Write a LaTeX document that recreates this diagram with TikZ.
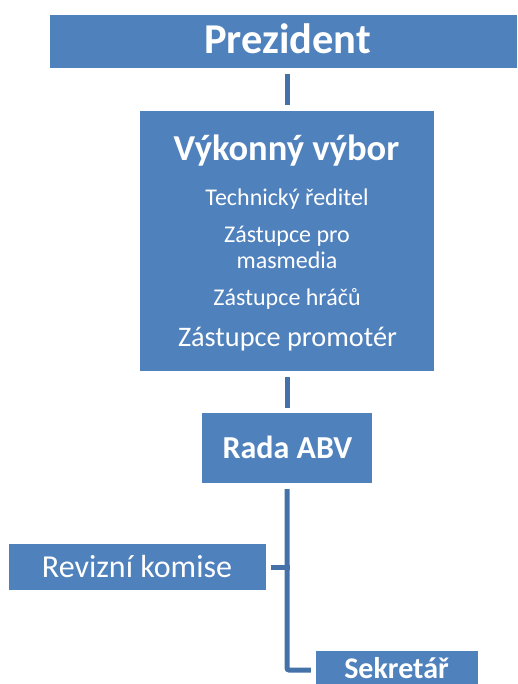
\documentclass[tikz,border=0pt]{standalone}
\usepackage{fontspec}
\setmainfont{Carlito}
\usetikzlibrary{calc}
\definecolor{boxblue}{HTML}{4F81BD}
\definecolor{lineblue}{HTML}{4472A8}
\begin{document}
\begin{tikzpicture}[x=1pt,y=-1pt,
  box/.style={fill=boxblue, draw=none, inner sep=0pt},
  txt/.style={text=white, anchor=base, inner sep=0pt},
  conn/.style={draw=lineblue, line width=5pt}]
\useasboundingbox (0,0) rectangle (517,684);
\clip (0,0) rectangle (517,684);
% boxes
\node[box, minimum width=467pt, minimum height=53pt] (pz) at (283.5,41.5) {};
\node[box, minimum width=294pt, minimum height=260pt] (vv) at (287,241) {};
\node[box, minimum width=170pt, minimum height=70pt] (rada) at (287,448) {};
\node[box, minimum width=257pt, minimum height=46pt] (rev) at (137.5,567) {};
\node[box, minimum width=162pt, minimum height=38pt] (sek) at (397,670) {};
% texts
\node[txt, font=\fontsize{42.5}{50}\selectfont\bfseries] (tpz) at (287.5,54) {Prezident};
\node[txt, font=\fontsize{36.5}{44}\selectfont\bfseries] (tvv) at (286.5,161) {Výkonný výbor};
\node[txt, font=\fontsize{24}{29}\selectfont] (t1) at (287,206) {Technický ředitel};
\node[txt, font=\fontsize{24}{29}\selectfont] (t2) at (287,243) {Zástupce pro};
\node[txt, font=\fontsize{24}{29}\selectfont] (t3) at (287,268) {masmedia};
\node[txt, font=\fontsize{24}{29}\selectfont] (t4) at (287,305) {Zástupce hráčů};
\node[txt, font=\fontsize{28.3}{34}\selectfont] (t5) at (287.5,346) {Zástupce promotér};
\node[txt, font=\fontsize{32}{38}\selectfont\bfseries] (trada) at (287.5,458) {Rada ABV};
\node[txt, font=\fontsize{32}{38}\selectfont] (trev) at (137,577) {Revizní komise};
\node[txt, font=\fontsize{30}{36}\selectfont\bfseries] (tsek) at (396.5,678) {Sekretář};
% connectors
\draw[conn, shorten <=6pt, shorten >=6pt] (vv.north |- pz.south) -- (vv.north);
\draw[conn, shorten <=6pt, shorten >=5pt] (vv.south) -- (rada.north);
\draw[conn, shorten <=6pt, shorten >=5pt, rounded corners=2pt] (rada.south) |- (sek.west);
\draw[conn, shorten >=5pt] ([xshift=2.5pt]rada.south |- rev.east) -- (rev.east);
\end{tikzpicture}
\end{document}
